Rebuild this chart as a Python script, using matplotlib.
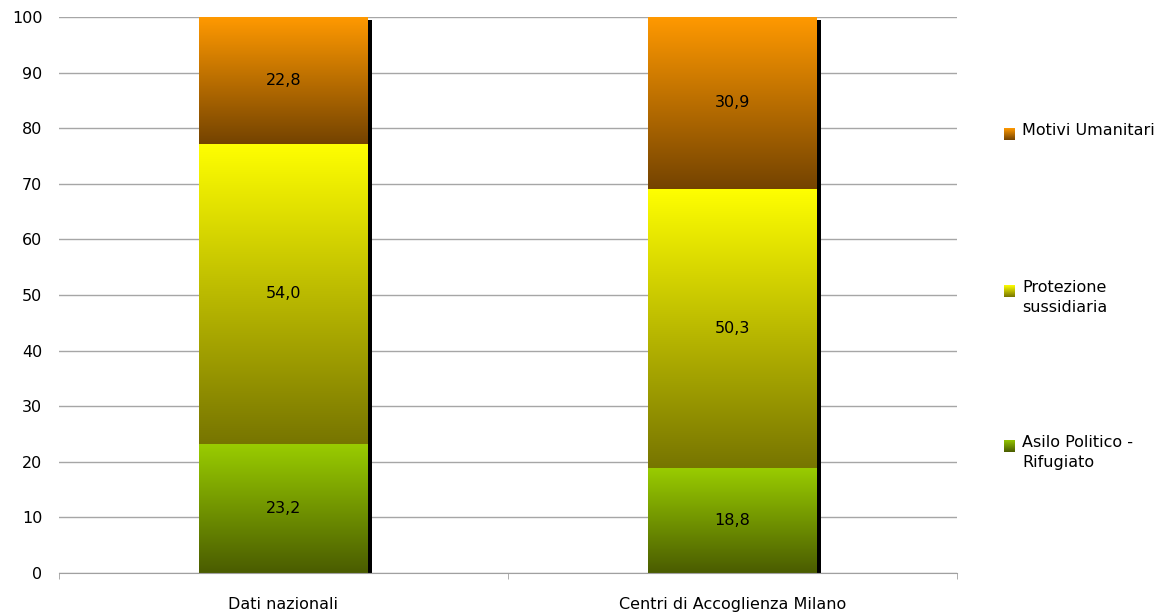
import numpy as np
import matplotlib
matplotlib.use("Agg")
import matplotlib.pyplot as plt
import matplotlib.transforms as mtransforms
from matplotlib.colors import LinearSegmentedColormap
from matplotlib.patches import Rectangle

# -------------------------------
# Data
# -------------------------------
categories = ["Dati nazionali", "Centri di Accoglienza Milano"]
series_names = ["Asilo Politico -\nRifugiato", "Protezione\nsussidiaria", "Motivi Umanitari"]
asilo = [23.2, 18.8]
protezione = [54.0, 50.3]
umanitari = [22.8, 30.9]
y_ticks = list(range(0, 101, 10))

# gradient colours (top, bottom) for each series
gradients = [("#99CC00", "#4A5C00"),
             ("#FFFF00", "#777500"),
             ("#FF9900", "#744300")]

plt.rcParams["font.family"] = ["DejaVu Sans"]
plt.rcParams["font.size"] = 11.5

fig = plt.figure(figsize=(11.72, 6.15), dpi=100)
ax = fig.add_axes([59 / 1172, 1 - 573 / 615, (957 - 59) / 1172, (573 - 17) / 615])

x = np.arange(len(categories))
bar_w = 0.375
bottom = np.zeros(len(categories))

# shadow offset: 4 px right, 3 px down
shadow_tr = ax.transData + mtransforms.ScaledTranslation(0.04, -0.03, fig.dpi_scale_trans)

for vals, (c_top, c_bot) in zip([asilo, protezione, umanitari], gradients):
    bars = ax.bar(x, vals, bar_w, bottom=bottom, color=c_top, linewidth=0, zorder=3)
    cmap = LinearSegmentedColormap.from_list("g", [c_bot, c_top])
    grad = np.linspace(0, 1, 256).reshape(-1, 1)
    for b in bars:
        x0, y0 = b.get_x(), b.get_y()
        sh = Rectangle((x0, y0), b.get_width(), b.get_height(), transform=shadow_tr,
                       facecolor="black", edgecolor="none", zorder=2)
        ax.add_patch(sh)
        im = ax.imshow(grad, cmap=cmap, origin="lower", aspect="auto",
                       extent=[x0, x0 + b.get_width(), y0, y0 + b.get_height()],
                       zorder=4, interpolation="bilinear")
        im.set_clip_path(b)
    labels = [f"{v:.1f}".replace(".", ",") for v in vals]
    ax.bar_label(bars, labels=labels, label_type="center", fontsize=11.5, zorder=5)
    bottom += np.array(vals)

ax.set_xlim(-0.5, 1.5)
ax.set_ylim(0, 100)
ax.set_yticks(y_ticks)
ax.set_xticks(x)
ax.set_xticklabels(categories)
ax.set_xticks([-0.5, 0.5, 1.5], minor=True)
ax.tick_params(axis="x", which="major", length=0, pad=17)
ax.tick_params(axis="x", which="minor", length=4.5, color="#A0A0A0", direction="out")
ax.tick_params(axis="y", length=0, pad=12)
ax.grid(axis="y", color="#A6A6A6", linewidth=1, zorder=0)
ax.set_axisbelow(True)
for s in ["top", "right", "left"]:
    ax.spines[s].set_visible(False)
ax.spines["bottom"].set_color("#A0A0A0")
ax.spines["bottom"].set_zorder(6)

# -------------------------------
# Legend (gradient squares)
# -------------------------------
legend_y = [446, 291, 134]  # pixel centres of the markers, from bottom series to top
for name, (c_top, c_bot), py in zip(series_names, gradients, legend_y):
    lax = fig.add_axes([1004 / 1172, 1 - (py + 6) / 615, 11 / 1172, 12 / 615])
    cmap = LinearSegmentedColormap.from_list("g", [c_bot, c_top])
    lax.imshow(np.linspace(0, 1, 64).reshape(-1, 1), cmap=cmap, origin="lower",
               aspect="auto", interpolation="bilinear")
    lax.axis("off")
    fig.text(1022 / 1172, 1 - (py - 11) / 615, name, ha="left", va="top",
             fontsize=11.5, linespacing=1.45)

fig.savefig("out.png", dpi=100)
